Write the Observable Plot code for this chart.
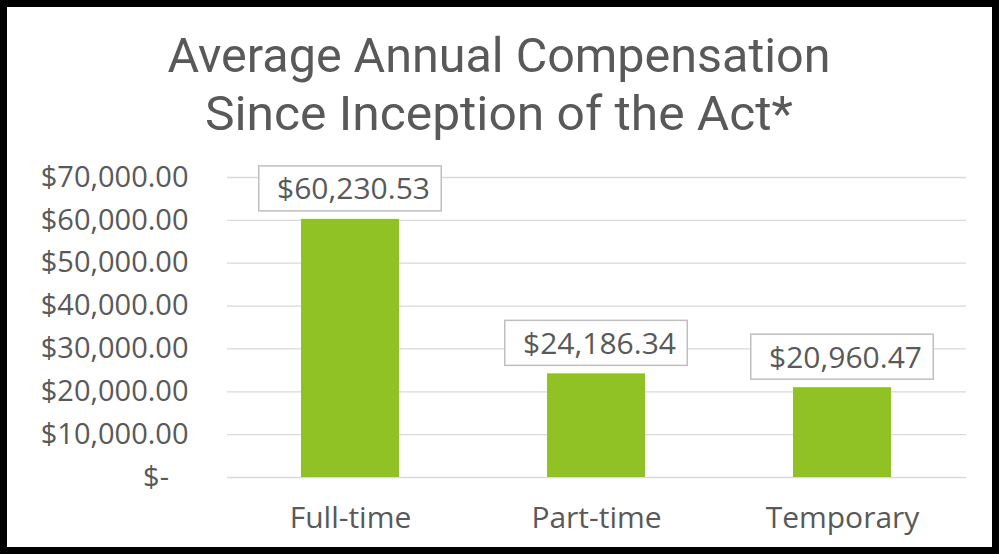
<!DOCTYPE html>
<html>
<head>
<meta charset="utf-8">
<script src="https://cdn.jsdelivr.net/npm/d3@7"></script>
<script src="https://cdn.jsdelivr.net/npm/@observablehq/plot@0.6"></script>
<style>
  html, body { margin: 0; padding: 0; background: #fff; }
  #wrap { position: relative; width: 999px; height: 554px; overflow: hidden; background: #fff; font-family: 'Open Sans', sans-serif; }
  #title { position: absolute; left: 0; top: 0; }
  #chart { position: absolute; left: 0; top: 140px; }
  #frame { position: absolute; left: 0; top: 0; width: 999px; height: 554px; box-sizing: border-box; border: 7px solid #000; pointer-events: none; }
</style>
</head>
<body>
<div id="wrap">
  <svg id="title" width="999" height="150"></svg>
  <div id="chart"></div>
  <div id="frame"></div>
</div>
<script>
const titleLines = ["Average Annual Compensation", "Since Inception of the Act*"];
const categories = ["Full-time", "Part-time", "Temporary"];
const values = [60230.53, 24186.34, 20960.47];
const yTicks = [0, 10000, 20000, 30000, 40000, 50000, 60000, 70000];

const data = categories.map((c, i) => ({category: c, value: values[i]}));
const money = d3.format("$,.2f");
const tickFmt = v => v === 0 ? "$-\u2007\u200A" : money(v);

// Title (condensed look via textLength)
const tsvg = d3.select("#title");
const titleWidths = [663, 588];
const titleBaselines = [72, 130];
titleLines.forEach((t, i) => {
  tsvg.append("text")
    .attr("x", 499)
    .attr("y", titleBaselines[i])
    .attr("text-anchor", "middle")
    .attr("font-family", "Roboto, 'Open Sans', sans-serif")
    .attr("font-size", 48)
    .attr("fill", "#595959")
    .attr("textLength", titleWidths[i])
    .attr("lengthAdjust", "spacingAndGlyphs")
    .text(t);
});

const chart = Plot.plot({
  width: 999,
  height: 414,
  marginTop: 37,
  marginBottom: 77,
  marginLeft: 227,
  marginRight: 33,
  style: {fontFamily: "'Open Sans', sans-serif", color: "#595959", background: "transparent", overflow: "visible"},
  x: {domain: categories, paddingInner: 0.6, paddingOuter: 0.3, label: null},
  y: {domain: [0, 70000], label: null},
  marks: [
    Plot.gridY(yTicks, {stroke: "#d9d9d9", strokeOpacity: 1, strokeWidth: 1.3}),
    Plot.axisY(yTicks, {tickSize: 0, tickPadding: 39, tickFormat: tickFmt, fontSize: 29, fill: "#595959", label: null}),
    Plot.axisX({tickSize: 0, tickPadding: 29, fontSize: 30, fill: "#595959", label: null}),
    Plot.barY(data, {x: "category", y: "value", fill: "#90c226"}),
    Plot.barY(data, {x: "category", y1: "value", y2: "value", insetLeft: -42.25, insetRight: -42.25, insetTop: -53, insetBottom: 8, fill: "white", stroke: "#bfbfbf", strokeWidth: 1.5}),
    Plot.text(data, {x: "category", y: "value", text: d => money(d.value), dy: -29.5, dx: 3, fontSize: 30, fill: "#595959"})
  ]
});
document.getElementById("chart").appendChild(chart);
</script>
</body>
</html>
